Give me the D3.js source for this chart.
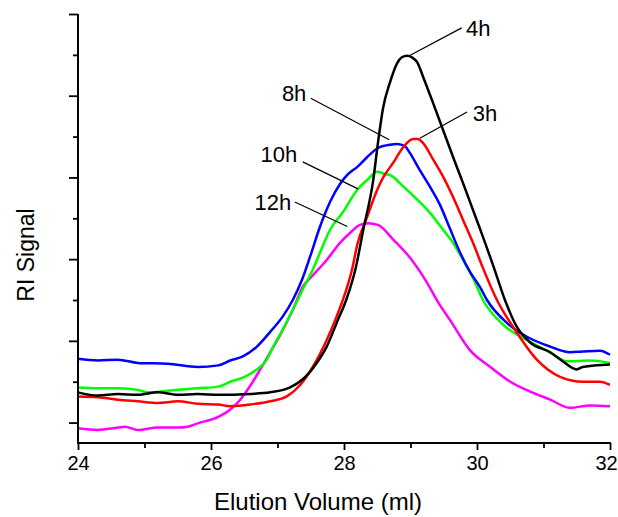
<!DOCTYPE html>
<html>
<head>
<meta charset="utf-8">
<script src="https://cdn.jsdelivr.net/npm/d3@7"></script>
<style>
  html, body { margin: 0; padding: 0; background: #fff; }
  svg { display: block; font-family: "Liberation Sans", Arial, Helvetica, sans-serif; }
</style>
</head>
<body>
<svg id="gpc"></svg>
<script>
// elution volume (ml) vs RI signal (arb. units)
const trace3h = [[24.00,0.32],[24.30,0.31],[24.60,0.28],[24.90,0.26],[25.20,0.24],[25.50,0.26],[25.80,0.23],[26.11,0.22],[26.29,0.20],[26.59,0.22],[26.89,0.26],[27.14,0.32],[27.34,0.46],[27.53,0.68],[27.74,1.01],[27.89,1.30],[28.02,1.59],[28.12,1.87],[28.20,2.18],[28.35,2.52],[28.50,2.85],[28.59,3.00],[28.74,3.18],[28.89,3.37],[29.04,3.47],[29.11,3.47],[29.19,3.42],[29.34,3.22],[29.49,3.01],[29.64,2.76],[29.79,2.48],[29.94,2.20],[30.09,1.89],[30.30,1.50],[30.60,1.10],[30.90,0.77],[31.25,0.56],[31.59,0.50],[31.85,0.50],[32.00,0.46]];
const trace4h = [[24.00,0.37],[24.30,0.33],[24.60,0.35],[24.90,0.34],[25.20,0.37],[25.50,0.34],[25.80,0.35],[26.11,0.34],[26.29,0.34],[26.59,0.35],[26.89,0.37],[27.19,0.43],[27.38,0.53],[27.59,0.73],[27.74,0.93],[27.89,1.22],[28.05,1.54],[28.17,1.87],[28.29,2.36],[28.44,2.97],[28.51,3.42],[28.59,3.86],[28.69,4.16],[28.80,4.40],[28.87,4.47],[28.95,4.49],[29.02,4.47],[29.10,4.41],[29.19,4.23],[29.34,3.91],[29.49,3.58],[29.64,3.25],[29.79,2.93],[30.05,2.36],[30.24,1.93],[30.42,1.50],[30.60,1.17],[30.80,0.98],[31.10,0.86],[31.29,0.75],[31.50,0.65],[31.59,0.68],[32.00,0.71]];
const trace8h = [[24.00,0.78],[24.30,0.76],[24.60,0.77],[24.90,0.73],[25.35,0.72],[25.80,0.68],[26.11,0.70],[26.29,0.76],[26.48,0.81],[26.69,0.93],[26.89,1.11],[27.08,1.30],[27.23,1.50],[27.37,1.75],[27.49,2.03],[27.64,2.40],[27.79,2.70],[27.94,2.92],[28.05,3.03],[28.20,3.13],[28.35,3.25],[28.51,3.36],[28.69,3.40],[28.80,3.41],[28.92,3.38],[28.99,3.30],[29.14,3.09],[29.29,2.89],[29.44,2.67],[29.59,2.38],[29.74,2.09],[29.89,1.85],[30.05,1.65],[30.15,1.50],[30.45,1.22],[30.75,1.05],[31.10,0.93],[31.40,0.86],[31.59,0.87],[31.85,0.88],[32.00,0.83]];
const trace10h = [[24.00,0.43],[24.30,0.42],[24.60,0.42],[24.90,0.40],[25.05,0.37],[25.35,0.39],[25.80,0.42],[26.11,0.44],[26.29,0.50],[26.48,0.55],[26.69,0.65],[26.84,0.77],[26.93,0.92],[27.08,1.14],[27.23,1.38],[27.38,1.63],[27.53,1.87],[27.64,2.08],[27.79,2.36],[27.98,2.57],[28.20,2.85],[28.35,2.97],[28.50,3.07],[28.62,3.04],[28.69,3.03],[28.89,2.89],[29.10,2.73],[29.29,2.57],[29.49,2.36],[29.64,2.20],[29.79,1.99],[29.94,1.77],[30.09,1.50],[30.39,1.20],[30.75,1.01],[31.10,0.86],[31.35,0.75],[31.70,0.76],[32.00,0.73]];
const trace12h = [[24.00,-0.07],[24.30,-0.09],[24.60,-0.06],[24.71,-0.05],[24.90,-0.09],[25.20,-0.06],[25.50,-0.06],[25.65,-0.05],[25.80,-0.01],[26.11,0.07],[26.29,0.16],[26.44,0.28],[26.59,0.45],[26.74,0.65],[26.89,0.86],[27.04,1.07],[27.23,1.38],[27.38,1.66],[27.53,1.80],[27.74,1.99],[27.94,2.20],[28.09,2.32],[28.24,2.42],[28.36,2.44],[28.51,2.42],[28.74,2.24],[28.99,2.02],[29.22,1.75],[29.44,1.44],[29.59,1.26],[29.89,0.89],[30.20,0.68],[30.50,0.50],[30.80,0.38],[31.10,0.28],[31.40,0.18],[31.70,0.21],[32.00,0.20]];

const seriesNames = ["12h", "10h", "8h", "3h", "4h"];
const seriesData = [trace12h, trace10h, trace8h, trace3h, trace4h];
const seriesColors = ["#ff00ff", "#00ff00", "#0000ff", "#ff0000", "#000000"];

const xTicks = [24, 26, 28, 30, 32];
const xMinorTicks = [25, 27, 29, 31];
const yTicks = [0, 1, 2, 3, 4, 5];
const yMinorTicks = [0.5, 1.5, 2.5, 3.5, 4.5];

// callouts: [label, curve point, line end, text centre]
const callouts = [
  ["4h",  [28.96, 4.48], [29.77, 4.83], [30.02, 4.82]],
  ["3h",  [29.14, 3.48], [29.85, 3.80], [30.12, 3.79]],
  ["8h",  [28.68, 3.46], [27.50, 3.97], [27.25, 4.03]],
  ["10h", [28.21, 2.86], [27.38, 3.19], [27.02, 3.28]],
  ["12h", [28.05, 2.40], [27.26, 2.70], [26.93, 2.69]]
];

const width = 618;
const height = 517;

const x = d3.scaleLinear().domain([24, 32]).range([78, 610]);
const y = d3.scaleLinear().domain([-0.25, 5]).range([443, 14]);

const svg = d3.select("#gpc")
  .attr("width", width)
  .attr("height", height)
  .attr("viewBox", [0, 0, width, height]);

const line = d3.line()
  .x(d => x(d[0]))
  .y(d => y(d[1]))
  .curve(d3.curveMonotoneX);

svg.append("g")
  .attr("fill", "none")
  .attr("stroke-width", 2.5)
  .attr("stroke-linejoin", "round")
  .selectAll("path")
  .data(seriesData)
  .join("path")
  .attr("stroke", (d, i) => seriesColors[i])
  .attr("d", line);

// axes
const yAxis = svg.append("g").attr("transform", `translate(${x(24)},0)`);
yAxis.call(d3.axisLeft(y).tickValues(yTicks).tickSize(9).tickFormat(""));
yAxis.call(g => g.append("g").call(d3.axisLeft(y).tickValues(yMinorTicks).tickSize(5).tickFormat("")));

const xAxis = svg.append("g").attr("transform", `translate(0,${y(-0.25)})`);
xAxis.call(d3.axisBottom(x).tickValues(xTicks).tickSize(7).tickPadding(6).tickFormat(d3.format("d")));
xAxis.call(g => g.append("g").call(d3.axisBottom(x).tickValues(xMinorTicks).tickSize(5).tickFormat("")));

svg.selectAll(".tick line").attr("stroke", "#000").attr("stroke-width", 1.8);

// plain spines without end caps
yAxis.selectAll(".domain").remove();
xAxis.selectAll(".domain").remove();
yAxis.append("path")
  .attr("d", `M0,${y(5)}V${y(-0.25)}`)
  .attr("stroke", "#000").attr("stroke-width", 2);
xAxis.append("path")
  .attr("d", `M${x(24) - 1},0H${x(32) + 1}`)
  .attr("stroke", "#000").attr("stroke-width", 2);

xAxis.selectAll(".tick text")
  .attr("font-size", 20)
  .attr("font-family", "Liberation Sans, Arial, sans-serif")
  .attr("fill", "#000")
  .attr("dx", d => d === 32 ? -4 : 0);

svg.append("text")
  .attr("x", 318)
  .attr("y", 510)
  .attr("text-anchor", "middle")
  .attr("font-size", 24)
  .text("Elution Volume (ml)");

svg.append("text")
  .attr("transform", `translate(34,${y(2.05)}) rotate(-90)`)
  .attr("text-anchor", "middle")
  .attr("font-size", 23)
  .text("RI Signal");

// callout labels
const note = svg.append("g");
note.selectAll("line")
  .data(callouts)
  .join("line")
  .attr("x1", d => x(d[1][0]))
  .attr("y1", d => y(d[1][1]))
  .attr("x2", d => x(d[2][0]))
  .attr("y2", d => y(d[2][1]))
  .attr("stroke", "#000")
  .attr("stroke-width", 1.2);

note.selectAll("text")
  .data(callouts)
  .join("text")
  .attr("x", d => x(d[3][0]))
  .attr("y", d => y(d[3][1]))
  .attr("dy", "0.35em")
  .attr("text-anchor", "middle")
  .attr("font-size", 22)
  .text(d => d[0]);
</script>
</body>
</html>
